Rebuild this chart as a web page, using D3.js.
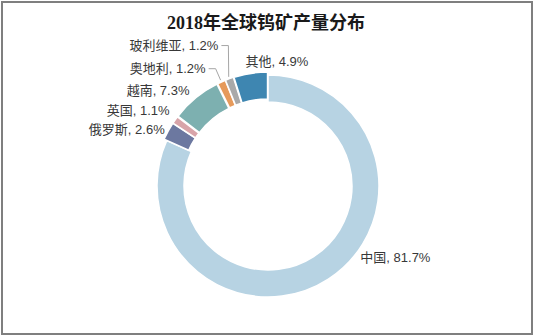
<!DOCTYPE html>
<html><head><meta charset="utf-8">
<script src="https://cdn.jsdelivr.net/npm/d3@7"></script>
<style>
html,body{margin:0;padding:0;background:#fff;}
svg{display:block;}
</style></head>
<body>
<svg id="chart" width="534" height="336"></svg>
<script>
const title = "2018年全球钨矿产量分布";
const categories = ["中国","俄罗斯","英国","越南","奥地利","玻利维亚","其他"];
const shares = [81.7, 2.6, 1.1, 7.3, 1.2, 1.2, 4.9];
const colors = ["#b7d3e3","#6c78a0","#d8a4a9","#7db0b0","#e69a5b","#a9a9a9","#3e86b1"];
// label layout: offset from the slice's outer mid point, anchor, leader line
const labelDx = [32, -6, -8, -8, -17, -12, 26];
const labelDy = [-22, -3, -11, -10, -16, -36, -15];
const labelAnchor = ["start","end","end","end","end","end","middle"];
const labelLeader = [false,false,false,false,true,true,false];

const W = 534, H = 336, cx = 268, cy = 186, rOut = 111, rIn = 84, explode = 3;
const svg = d3.select("#chart");

svg.append("rect").attr("x",2).attr("y",2).attr("width",W-4).attr("height",H-4)
  .attr("fill","#fff").attr("stroke","#7f7f7f").attr("stroke-width",2);

svg.append("text").attr("x",266).attr("y",29).attr("text-anchor","middle")
  .attr("font-family","'Liberation Serif','Noto Sans CJK SC',serif")
  .attr("font-weight","bold").attr("font-size",18).attr("fill","#1a1a1a").text(title);

const data = categories.map((c,i)=>({name:c, value:shares[i], color:colors[i], i}));
const pie = d3.pie().value(d=>d.value).sort(null).startAngle(0).endAngle(2*Math.PI);
const arcs = pie(data);
const arc = d3.arc().innerRadius(rIn).outerRadius(rOut);

const g = svg.append("g").attr("transform",`translate(${cx},${cy})`);
const mid = a => (a.startAngle + a.endAngle)/2;

g.selectAll("path").data(arcs).join("path")
  .attr("d",arc)
  .attr("transform",d=> d.index===0 ? null :
      `translate(${explode*Math.sin(mid(d))},${-explode*Math.cos(mid(d))})`)
  .attr("fill",d=>d.data.color)
  .attr("stroke","#fff").attr("stroke-width",1.5);

const lab = svg.append("g").attr("font-family","'Liberation Sans','Noto Sans CJK SC',sans-serif")
  .attr("font-size",13).attr("fill","#383838");

arcs.forEach((d,i)=>{
  const a = mid(d);
  const px = cx + (rOut)*Math.sin(a), py = cy - (rOut)*Math.cos(a);
  const tx = px + labelDx[i], ty = py + labelDy[i];
  lab.append("text").attr("x",tx).attr("y",ty).attr("dy","0.35em")
    .attr("text-anchor",labelAnchor[i])
    .text(`${d.data.name}, ${d3.format(".1f")(d.data.value)}%`);
  if (labelLeader[i]) {
    const ex = cx + (rOut+explode+2)*Math.sin(a), ey = cy - (rOut+explode+2)*Math.cos(a);
    svg.append("polyline")
      .attr("points",`${tx+3},${ty} ${tx+10},${ty} ${ex},${ey}`)
      .attr("fill","none").attr("stroke","#a6a6a6").attr("stroke-width",1);
  }
});
</script>
</body></html>
